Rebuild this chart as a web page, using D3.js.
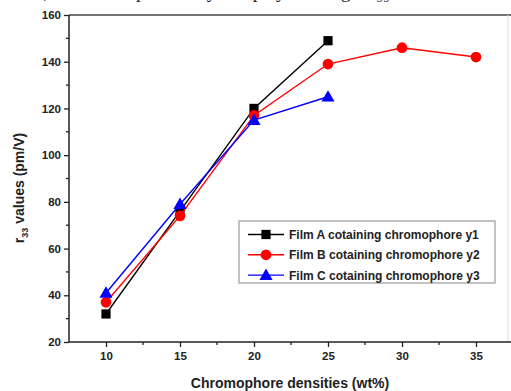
<!DOCTYPE html>
<html>
<head>
<meta charset="utf-8">
<script src="https://cdn.jsdelivr.net/npm/d3@7"></script>
<style>
  html, body { margin: 0; padding: 0; background: #fff; }
  svg { display: block; }
  text { font-family: Arial, "Liberation Sans", sans-serif; }
</style>
</head>
<body>
<svg id="chart" width="511" height="391"></svg>
<script>
// ---- data ----
const densities = [10, 15, 20, 25, 30, 35];
const filmA = [32, 76, 120, 149];
const filmB = [37, 74, 117, 139, 146, 142];
const filmC = [41, 79, 115, 125];
const seriesNames = [
  "Film A cotaining chromophore y1",
  "Film B cotaining chromophore y2",
  "Film C cotaining chromophore y3"
];
const seriesColors = ["#000000", "#ff0000", "#0000ff"];
const seriesSymbols = ["square", "circle", "triangle"];
const xTicks = [10, 15, 20, 25, 30, 35];
const yTicks = [20, 40, 60, 80, 100, 120, 140, 160];

const series = [filmA, filmB, filmC].map((vals, i) => ({
  name: seriesNames[i],
  color: seriesColors[i],
  symbol: seriesSymbols[i],
  points: vals.map((v, j) => ({ x: densities[j], y: v }))
}));

// ---- layout ----
const svg = d3.select("#chart");
const L = 69, T = 15, B = 342;
const x = d3.scaleLinear().domain([7.5, 37.5]).range([L, L + 30 * 14.8]);
const y = d3.scaleLinear().domain([20, 160]).range([B, T]);
const W = 511;

// cropped text line from the surrounding page (only its lower part is visible)
svg.append("text")
  .attr("x", -12).attr("y", -2)
  .style("font-family", "'Liberation Serif', 'Times New Roman', serif")
  .style("font-size", "19px")
  .attr("fill", "#222")
  .text("owever, the film doped with y2 displayed a larger r\u2083\u2083 values at");

// frame
const g = svg.append("g");
g.append("line").attr("x1", L).attr("x2", W).attr("y1", T).attr("y2", T)
  .attr("stroke", "#444").attr("stroke-width", 1.5);
g.append("line").attr("x1", 508).attr("x2", 508).attr("y1", T).attr("y2", B)
  .attr("stroke", "#ddd").attr("stroke-width", 1);

// axes
const xAxis = d3.axisBottom(x).tickValues(xTicks).tickSize(5).tickPadding(5).tickFormat(d3.format("d"));
const xAx = svg.append("g").attr("transform", `translate(0,${B})`).call(xAxis);
const yAxis = d3.axisLeft(y).tickValues(yTicks).tickSize(5).tickPadding(3).tickFormat(d3.format("d"));
const yAx = svg.append("g").attr("transform", `translate(${L},0)`).call(yAxis);

// minor ticks
const xMinor = xTicks.map(v => v + 2.5).filter(v => v < 37.5);
svg.append("g").selectAll("line").data(xMinor).join("line")
  .attr("x1", d => x(d)).attr("x2", d => x(d)).attr("y1", B).attr("y2", B + 3)
  .attr("stroke", "#222").attr("stroke-width", 1.3);
const yMinor = d3.range(30, 160, 20);
svg.append("g").selectAll("line").data(yMinor).join("line")
  .attr("x1", L).attr("x2", L - 3).attr("y1", d => y(d)).attr("y2", d => y(d))
  .attr("stroke", "#222").attr("stroke-width", 1.3);

[xAx, yAx].forEach(ax => {
  ax.select(".domain").attr("stroke", "#222").attr("stroke-width", 1.5);
  ax.selectAll(".tick line").attr("stroke", "#222").attr("stroke-width", 1.3);
  ax.selectAll(".tick text").attr("fill", "#222")
    .style("font-size", "11.5px").style("font-weight", "bold")
    .style("font-family", "Arial, 'Liberation Sans', sans-serif");
});
xAx.select(".domain").attr("d", `M${L},0H${W}`);
yAx.select(".domain").attr("d", `M0,${T}V${B}`);

// axis titles
svg.append("text")
  .attr("x", 290).attr("y", 388).attr("text-anchor", "middle")
  .style("font-size", "14px").style("font-weight", "bold").attr("fill", "#222")
  .text("Chromophore densities (wt%)");

const yt = svg.append("text")
  .attr("transform", "translate(24,188) rotate(-90)")
  .attr("text-anchor", "middle")
  .style("font-size", "14px").style("font-weight", "bold").attr("fill", "#222");
yt.append("tspan").text("r");
yt.append("tspan").attr("dy", 4).style("font-size", "9px").text("33");
yt.append("tspan").attr("dy", -4).text(" values (pm/V)");

// symbols
const symType = { square: d3.symbolSquare, circle: d3.symbolCircle, triangle: d3.symbolTriangle };
const symSize = { square: 85, circle: 90, triangle: 75 };
function symPath(s) { return d3.symbol().type(symType[s]).size(symSize[s])(); }

const line = d3.line().x(d => x(d.x)).y(d => y(d.y));
series.forEach(s => {
  svg.append("path").datum(s.points).attr("d", line)
    .attr("fill", "none").attr("stroke", s.color).attr("stroke-width", 1.4);
  svg.append("g").selectAll("path").data(s.points).join("path")
    .attr("d", symPath(s.symbol))
    .attr("transform", d => `translate(${x(d.x)},${y(d.y) + (s.symbol === "triangle" ? 1 : 0)})`)
    .attr("fill", s.color);
});

// legend
const lg = svg.append("g");
lg.append("rect").attr("x", 239).attr("y", 221).attr("width", 256).attr("height", 62)
  .attr("fill", "#fff").attr("stroke", "#999").attr("stroke-width", 1.2);
series.forEach((s, i) => {
  const cy = 234.5 + i * 20.3;
  lg.append("line").attr("x1", 248).attr("x2", 284).attr("y1", cy).attr("y2", cy)
    .attr("stroke", s.color).attr("stroke-width", 1.4);
  lg.append("path").attr("d", symPath(s.symbol))
    .attr("transform", `translate(266,${cy + (s.symbol === "triangle" ? 1 : 0)})`)
    .attr("fill", s.color);
  lg.append("text").attr("x", 289).attr("y", cy + 4.5)
    .style("font-size", "12px").style("font-weight", "bold").attr("fill", "#222")
    .text(s.name);
});
</script>
</body>
</html>
